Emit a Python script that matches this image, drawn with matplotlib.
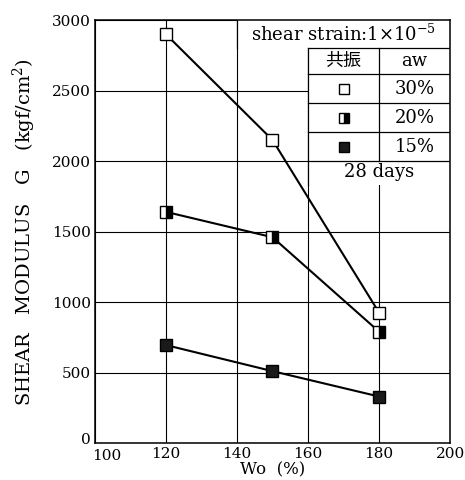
import matplotlib
matplotlib.use('Agg')
import matplotlib.pyplot as plt
from matplotlib.patches import Rectangle
from matplotlib.transforms import ScaledTranslation

plt.rcParams['font.family'] = ['DejaVu Serif']
plt.rcParams['mathtext.fontset'] = 'dejavuserif'

# Dados
wo = [120, 150, 180]
g_30 = [2900, 2150, 925]
g_20 = [1640, 1460, 790]
g_15 = [695, 510, 330]
xticks = [100, 120, 140, 160, 180, 200]
yticks = [0, 500, 1000, 1500, 2000, 2500, 3000]
aw_labels = ['30%', '20%', '15%']

fig = plt.figure(figsize=(4.65, 4.8), dpi=100)
ax = fig.add_axes([0.204, 0.077, 0.764, 0.881])

ax.set_xlim(100, 200)
ax.set_ylim(0, 3000)
ax.set_xticks(xticks)
ax.set_yticks(yticks)
ax.tick_params(length=0, pad=3, labelsize=11)
ax.grid(True, color='black', linewidth=0.8, zorder=0.5)
ax.set_axisbelow(True)
for s in ax.spines.values():
    s.set_linewidth(1.1)

# desloca os rótulos "100" e "0" como no original
fig.canvas.draw()
ax.get_xticklabels()[0].set_transform(
    ax.get_xticklabels()[0].get_transform() + ScaledTranslation(0.12, -0.02, fig.dpi_scale_trans))
ax.get_yticklabels()[0].set_transform(
    ax.get_yticklabels()[0].get_transform() + ScaledTranslation(0.0, 0.05, fig.dpi_scale_trans))

# séries
ax.plot(wo, g_30, color='black', lw=1.5, marker='s', ms=8,
        mfc='white', mec='black', mew=1.0, zorder=3)
ax.plot(wo, g_20, color='black', lw=1.5, marker='s', ms=8,
        fillstyle='right', mfc='black', mfcalt='white', mec='black', mew=1.0, zorder=3)
ax.plot(wo, g_15, color='black', lw=1.5, marker='s', ms=8,
        mfc='#1a1a1a', mec='black', mew=1.0, zorder=3)

ax.set_xlabel('Wo  (%)', fontsize=12, labelpad=-1)
ax.set_ylabel('SHEAR   MODULUS   G   (kgf/cm$^2$)', fontsize=14, labelpad=10)

# quadro da legenda (tabela)
lw_t = 0.9
ax.add_patch(Rectangle((140, 2800), 60, 200, facecolor='white', edgecolor='none', zorder=1))
ax.add_patch(Rectangle((160, 1830), 40, 970, facecolor='white', edgecolor='none', zorder=1))
ax.plot([140, 140], [2800, 3000], color='black', lw=lw_t, zorder=2)
ax.plot([160, 160], [1830, 2800], color='black', lw=lw_t, zorder=2)
ax.plot([180, 180], [2000, 2800], color='black', lw=lw_t, zorder=2)
for yb in [2800, 2615, 2410, 2205, 2000]:
    ax.plot([160, 200], [yb, yb], color='black', lw=lw_t, zorder=2)

ax.text(170, 2900, r'shear strain:1$\times$10$^{-5}$', ha='center', va='center',
        fontsize=13, zorder=4)
ax.text(170, 2708, '共振', ha='center', va='center', fontsize=13,
        family=['Noto Sans CJK JP', 'DejaVu Serif'], zorder=4)
ax.text(190, 2708, 'aw', ha='center', va='center', fontsize=13, zorder=4)

row_y = [2512, 2307, 2102]
styles = [dict(mfc='white'),
          dict(fillstyle='right', mfc='black', mfcalt='white'),
          dict(mfc='#1a1a1a')]
for yy, lab, st in zip(row_y, aw_labels, styles):
    ax.plot([170], [yy], marker='s', ms=6.5, mec='black', mew=1.0,
            linestyle='none', zorder=4, **st)
    ax.text(190, yy, lab, ha='center', va='center', fontsize=13, zorder=4)

ax.text(180, 1920, '28 days', ha='center', va='center', fontsize=13, zorder=4)

fig.savefig('out.png', dpi=100)
plt.close('all')
